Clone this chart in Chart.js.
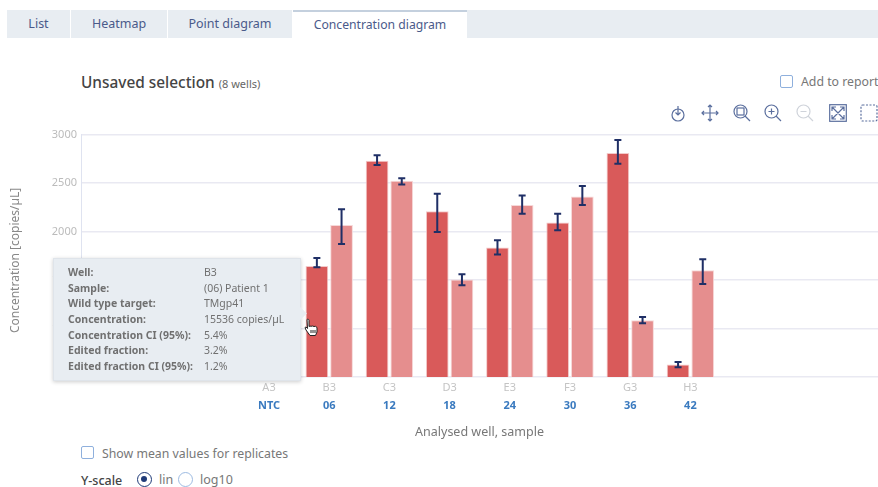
<!DOCTYPE html>
<html lang="en">
<head>
    <meta charset="UTF-8">
    <title>Concentration diagram</title>
    <style>
        html, body {
            margin: 0;
            padding: 0;
            background: #fff;
            overflow: hidden;
        }
        body {
            position: relative;
            width: 878px;
            height: 487px;
            font-family: 'Noto Sans', Arial, sans-serif;
            color: #777;
        }
        .abs { position: absolute; white-space: nowrap; }
        #tabs {
            position: absolute;
            left: 7px;
            top: 10px;
            width: 871px;
            height: 28px;
            background: #e8edf2;
        }
        .tab {
            position: absolute;
            top: 0;
            height: 28px;
            line-height: 28px;
            text-align: center;
            font-size: 12.5px;
            color: #4a5a8a;
            box-sizing: border-box;
            border-right: 1px solid #fff;
        }
        .tab.active {
            background: #fff;
            border-top: 2px solid #c4d0de;
            line-height: 26px;
            border-right: none;
            font-size: 12.2px;
        }
        #chartWrap {
            position: absolute;
            left: 0;
            top: 0;
            width: 878px;
            height: 440px;
        }
        .check {
            position: absolute;
            width: 13px;
            height: 13px;
            box-sizing: border-box;
            border: 1px solid #8fb0dd;
            border-radius: 2px;
            background: #fff;
        }
        .radio {
            position: absolute;
            width: 15px;
            height: 15px;
            box-sizing: border-box;
            border: 1px solid #9dbbe2;
            border-radius: 50%;
            background: #fff;
        }
        .radio.on { border: 1.5px solid #1f3a78; }
        .radio.on::after {
            content: '';
            position: absolute;
            left: 3px;
            top: 3px;
            width: 6px;
            height: 6px;
            border-radius: 50%;
            background: #1f3a78;
        }
        #tip {
            position: absolute;
            left: 53px;
            top: 258px;
            width: 248px;
            height: 123px;
            box-sizing: border-box;
            background: #e8edf2;
            border: 1px solid #dfe4ea;
            box-shadow: 0 1px 4px rgba(0,0,0,0.2);
            font-size: 10.5px;
            color: #707070;
        }
        #tip::after {
            content: '';
            position: absolute;
            left: 242px;
            top: 50px;
            width: 9px;
            height: 9px;
            background: #e8edf2;
            transform: rotate(45deg);
        }
        #tip div { position: absolute; white-space: nowrap; line-height: 14px; }
        #tip .k { left: 14px; font-weight: 700; }
        #tip .v { left: 150px; }
        svg.icon { position: absolute; fill: none; stroke: #5b6f9e; stroke-width: 1.2; }
    </style>
</head>
<body>
    <div id="tabs">
        <div class="tab" style="left:0;width:64px">List</div>
        <div class="tab" style="left:64px;width:97px">Heatmap</div>
        <div class="tab" style="left:161px;width:125px">Point diagram</div>
        <div class="tab active" style="left:286px;width:174px">Concentration diagram</div>
    </div>

    <div class="abs" style="left:81px;top:72px;font-size:15.4px;font-weight:500;color:#444">Unsaved selection <span style="font-size:11px;font-weight:400;color:#666">(8 wells)</span></div>

    <div class="check" style="left:780px;top:75px"></div>
    <div class="abs" style="left:801px;top:73px;font-size:12.3px">Add to report</div>

    <svg class="icon" style="left:669px;top:104px" width="18" height="18" viewBox="0 0 18 18"><circle cx="9" cy="11" r="6"/><path d="M9 2v9M6.5 8.5 9 11l2.5-2.5"/></svg>
    <svg class="icon" style="left:701px;top:104px" width="18" height="18" viewBox="0 0 18 18"><path d="M9 1v16M1 9h16M7 3l2-2 2 2M7 15l2 2 2-2M3 7 1 9l2 2M15 7l2 2-2 2"/></svg>
    <svg class="icon" style="left:733px;top:104px" width="18" height="18" viewBox="0 0 18 18"><circle cx="7.5" cy="7.5" r="6.5"/><rect x="4" y="4" width="7" height="7"/><path d="m12 12 5 5"/></svg>
    <svg class="icon" style="left:764px;top:104px" width="18" height="18" viewBox="0 0 18 18"><circle cx="7.5" cy="7.5" r="6.5"/><path d="M7.5 4.5v6M4.5 7.5h6m1.500 4.500 5 5"/></svg>
    <svg class="icon" style="left:796px;top:104px;stroke:#cfd3da" width="18" height="18" viewBox="0 0 18 18"><circle cx="7.500" cy="7.500" r="6.500"/><path d="M4.500 7.500h6m1.500 4.500 5 5"/></svg>
    <svg class="icon" style="left:829px;top:104px" width="18" height="18" viewBox="0 0 18 18"><rect x="0.700" y="0.700" width="16.600" height="16.600"/><path d="m3 3 12 12M15 3 3 15M3 7V3h4M11 3h4v4M3 11v4h4M15 11v4h-4"/></svg>
    <svg class="icon" style="left:860px;top:104px" width="18" height="18" viewBox="0 0 18 18"><rect x="1" y="1" width="16" height="16" rx="1.500" stroke-dasharray="2 1.500"/></svg>

    <div id="chartWrap"><canvas id="concChart"></canvas></div>

    <div id="tip">
        <div class="k" style="top:6px">Well:</div><div class="v" style="top:6px">B3</div>
        <div class="k" style="top:22px">Sample:</div><div class="v" style="top:22px">(06) Patient 1</div>
        <div class="k" style="top:37px">Wild type target:</div><div class="v" style="top:37px">TMgp41</div>
        <div class="k" style="top:53px">Concentration:</div><div class="v" style="top:53px">15536 copies/µL</div>
        <div class="k" style="top:69px">Concentration CI (95%):</div><div class="v" style="top:69px">5.4%</div>
        <div class="k" style="top:84px">Edited fraction:</div><div class="v" style="top:84px">3.2%</div>
        <div class="k" style="top:100px">Edited fraction CI (95%):</div><div class="v" style="top:100px">1.2%</div>
    </div>

    <svg style="position:absolute;left:304px;top:318px" width="16" height="19" viewBox="0 0 16 19">
        <path d="M3 1.500c1-.8 2 0 2 1v6l1-.5 1 .3 1.500-.3 1.500.5 1.500-.2 1.500 1.200v4.500l-1.500 3.500H6L2 12 1 9.500l1-.5 1.500 1.500z" fill="#fff" stroke="#222" stroke-width="1"/>
        <path d="M7 12v3M9 12v3M11 12v3" stroke="#222" stroke-width="1"/>
    </svg>

    <div class="check" style="left:81px;top:446px"></div>
    <div class="abs" style="left:102px;top:445px;font-size:12.3px">Show mean values for replicates</div>

    <div class="abs" style="left:81px;top:472px;font-size:12.5px;font-weight:500;color:#444">Y-scale</div>
    <div class="radio on" style="left:137px;top:472px"></div>
    <div class="abs" style="left:159px;top:471px;font-size:12.5px">lin</div>
    <div class="radio" style="left:178px;top:472px"></div>
    <div class="abs" style="left:200px;top:471px;font-size:12.5px">log10</div>

    <script src="https://cdn.jsdelivr.net/npm/chart.js"></script>
    <script>
        const wells = ['A3', 'B3', 'C3', 'D3', 'E3', 'F3', 'G3', 'H3'];
        const samples = ['NTC', '06', '12', '18', '24', '30', '36', '42'];

        // A3 sits behind the tooltip in the picture, nothing readable there
        const darkValues = [null, 1645, 2729, 2210, 1835, 2093, 2808, 628];
        const darkLow = [null, 1632, 2685, 1996, 1763, 2014, 2698, 600];
        const darkHigh = [null, 1728, 2785, 2389, 1911, 2182, 2943, 655];

        const lightValues = [null, 2066, 2523, 1505, 2272, 2362, 1085, 1601];
        const lightLow = [null, 1872, 2485, 1446, 2182, 2272, 1054, 1460];
        const lightHigh = [null, 2230, 2550, 1560, 2372, 2468, 1119, 1715];

        const yTicks = [500, 1000, 1500, 2000, 2500, 3000];
        const fontName = "'Noto Sans', Arial, sans-serif";

        const errorBars = {
            id: 'errorBars',
            afterDatasetsDraw(chart) {
                const c = chart.ctx;
                const y = chart.scales.y;
                chart.data.datasets.forEach((ds, d) => {
                    chart.getDatasetMeta(d).data.forEach((bar, i) => {
                        if (ds.low[i] === null) return;
                        const top = y.getPixelForValue(ds.high[i]);
                        const bottom = y.getPixelForValue(ds.low[i]);
                        c.save();
                        c.strokeStyle = '#1f2f66';
                        c.lineWidth = 2;
                        c.beginPath();
                        c.moveTo(bar.x, top);
                        c.lineTo(bar.x, bottom);
                        c.moveTo(bar.x - 3.5, top);
                        c.lineTo(bar.x + 3.5, top);
                        c.moveTo(bar.x - 3.5, bottom);
                        c.lineTo(bar.x + 3.5, bottom);
                        c.stroke();
                        c.restore();
                    });
                });
            }
        };

        function wellTicks(scale) {
            scale.ticks = wells.map((w, i) => ({ value: i }));
        }

        new Chart(document.getElementById('concChart'), {
            type: 'bar',
            data: {
                datasets: [
                    {
                        data: darkValues.map((v, i) => ({ x: i, y: v })),
                        low: darkLow,
                        high: darkHigh,
                        backgroundColor: '#d95a5a',
                        borderColor: '#f3caca',
                        borderWidth: 1
                    },
                    {
                        data: lightValues.map((v, i) => ({ x: i, y: v })),
                        low: lightLow,
                        high: lightHigh,
                        backgroundColor: '#e58e8e',
                        borderColor: '#f6d8d8',
                        borderWidth: 1
                    }
                ]
            },
            plugins: [errorBars],
            options: {
                responsive: true,
                maintainAspectRatio: false,
                animation: false,
                categoryPercentage: 0.82,
                barPercentage: 0.92,
                layout: { padding: { top: 134.5, right: 0, bottom: 0, left: 8 } },
                plugins: {
                    legend: { display: false },
                    tooltip: { enabled: false }
                },
                scales: {
                    x: {
                        type: 'linear',
                        offset: false,
                        min: -3.123,
                        max: 10.116,
                        afterBuildTicks: wellTicks,
                        afterFit(scale) { scale.height = 19; },
                        grid: { display: false, drawTicks: false },
                        border: { display: false },
                        ticks: {
                            autoSkip: false,
                            maxRotation: 0,
                            padding: 4,
                            color: '#c4c4c4',
                            font: { family: fontName, size: 11 },
                            callback: (v) => wells[v]
                        }
                    },
                    x2: {
                        type: 'linear',
                        position: 'bottom',
                        offset: false,
                        min: -3.123,
                        max: 10.116,
                        afterBuildTicks: wellTicks,
                        afterFit(scale) { scale.height = 44; },
                        grid: { display: false, drawTicks: false },
                        border: { display: false },
                        ticks: {
                            autoSkip: false,
                            maxRotation: 0,
                            padding: 3,
                            color: '#3a7abf',
                            font: { family: fontName, size: 11, weight: 'bold' },
                            callback: (v) => samples[v]
                        },
                        title: {
                            display: true,
                            text: 'Analysed well, sample',
                            color: '#777',
                            padding: { top: 10, bottom: 0 },
                            font: { family: fontName, size: 12.5 }
                        }
                    },
                    y: {
                        min: 500,
                        max: 3000,
                        afterBuildTicks(scale) {
                            scale.ticks = yTicks.map((v) => ({ value: v }));
                        },
                        afterFit(scale) { scale.width = 73; },
                        grid: { color: '#e9e9f2', lineWidth: 1.5, drawTicks: false },
                        border: { color: '#dfe3f0' },
                        ticks: {
                            padding: 4,
                            color: '#bbbbbb',
                            font: { family: fontName, size: 11 },
                            callback: (v) => String(v)
                        },
                        title: {
                            display: true,
                            text: 'Concentration [copies/µL]   ',
                            color: '#888',
                            padding: { top: 0, bottom: 0 },
                            font: { family: fontName, size: 12 }
                        }
                    }
                }
            }
        });
    </script>
</body>
</html>
